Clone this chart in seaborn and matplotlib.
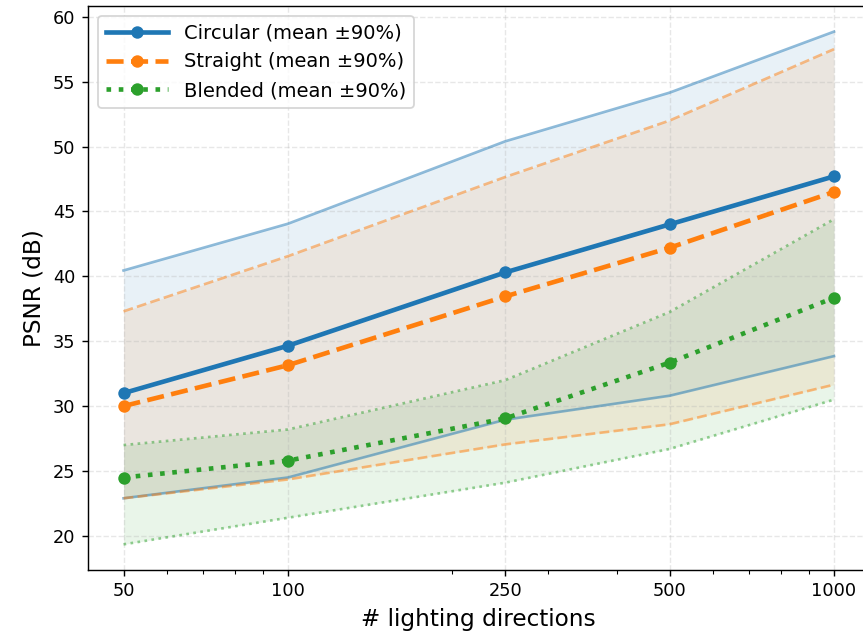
import numpy as np
import pandas as pd
import matplotlib
matplotlib.use("Agg")
import matplotlib.pyplot as plt
from matplotlib.ticker import NullFormatter
import seaborn as sns

directions = [50, 100, 250, 500, 1000]
tick_labels = ["50", "100", "250", "500", "1000"]

circ_mean = [31.0, 34.65, 40.3, 44.0, 47.7]
circ_lo = [22.9, 24.5, 28.95, 30.8, 33.85]
circ_hi = [40.45, 44.05, 50.4, 54.15, 58.85]

str_mean = [30.0, 33.15, 38.45, 42.2, 46.5]
str_lo = [22.9, 24.35, 27.05, 28.6, 31.65]
str_hi = [37.3, 41.55, 47.65, 52.0, 57.5]

bl_mean = [24.5, 25.8, 29.05, 33.35, 38.35]
bl_lo = [19.35, 21.4, 24.1, 26.7, 30.5]
bl_hi = [27.0, 28.2, 32.0, 37.25, 44.4]

names = ["Circular (mean ±90%)", "Straight (mean ±90%)", "Blended (mean ±90%)"]
colors = ["#1f77b4", "#ff7f0e", "#2ca02c"]
styles = ["-", "--", ":"]

dpi = 128
fig = plt.figure(figsize=(863 / dpi, 637 / dpi), dpi=dpi)
ax = fig.add_axes([88 / 863, 67 / 637, (869.5 - 88) / 863, 564 / 637])

series = [(circ_mean, circ_lo, circ_hi), (str_mean, str_lo, str_hi), (bl_mean, bl_lo, bl_hi)]
x = np.array(directions)
for (m, lo, hi), name, c, ls in zip(series, names, colors, styles):
    ax.fill_between(x, lo, hi, color=c, alpha=0.1, linewidth=0)
    ax.plot(x, lo, color=c, alpha=0.5, linestyle=ls, linewidth=1.5)
    ax.plot(x, hi, color=c, alpha=0.5, linestyle=ls, linewidth=1.5)

for (m, lo, hi), name, c, ls in zip(series, names, colors, styles):
    df = pd.DataFrame({"x": directions, "y": m})
    sns.lineplot(data=df, x="x", y="y", ax=ax, color=c, linestyle=ls,
                 linewidth=2.6, marker="o", markersize=7, markeredgewidth=0,
                 label=name)

ax.set_xscale("log")
ax.set_xticks(directions)
ax.set_xticklabels(tick_labels)
ax.xaxis.set_minor_formatter(NullFormatter())
ax.tick_params(labelsize=10)
ax.set_yticks([20, 25, 30, 35, 40, 45, 50, 55, 60])
ax.grid(True, which="major", linestyle="--", alpha=0.3)
ax.set_xlabel("# lighting directions", fontsize=13)
ax.set_ylabel("PSNR (dB)", fontsize=13)
ax.legend(loc="upper left", fontsize=11, handlelength=3.2)

fig.savefig("out.png", dpi=dpi)
